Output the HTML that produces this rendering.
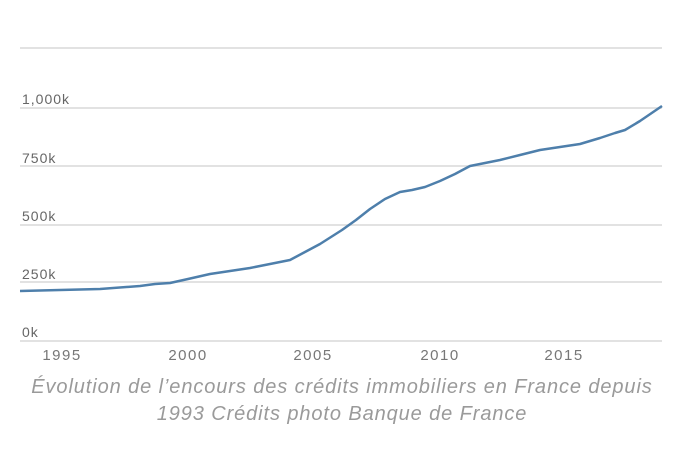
<!DOCTYPE html>
<html><head><style>
body{margin:0;background:#fff;width:684px;height:455px;overflow:hidden;font-family:"Liberation Sans",sans-serif}
.cap{position:absolute;left:0;width:684px;text-align:center;font-style:italic;color:#9a9a9a;font-size:20px;letter-spacing:0.9px;line-height:27px;top:374px}
</style></head><body>
<svg width="684" height="455" style="position:absolute;left:0;top:0">
<g stroke="#d8d8d8" stroke-width="1.5">
<line x1="20" x2="662" y1="48" y2="48"/>
<line x1="20" x2="662" y1="108" y2="108"/>
<line x1="20" x2="662" y1="166" y2="166"/>
<line x1="20" x2="662" y1="225" y2="225"/>
<line x1="20" x2="662" y1="282" y2="282"/>
<line x1="20" x2="662" y1="341" y2="341"/>
</g>
<g fill="#666" font-size="14" letter-spacing="1" font-family="Liberation Sans,sans-serif">
<text x="22" y="104">1,000k</text>
<text x="22" y="163">750k</text>
<text x="22" y="221">500k</text>
<text x="22" y="279">250k</text>
<text x="22" y="337">0k</text>
</g>
<g fill="#777" font-size="15" letter-spacing="1.5" text-anchor="middle" font-family="Liberation Sans,sans-serif">
<text x="62" y="360">1995</text>
<text x="188" y="360">2000</text>
<text x="313" y="360">2005</text>
<text x="440" y="360">2010</text>
<text x="564" y="360">2015</text>
</g>
<polyline fill="none" stroke="#4e7fab" stroke-width="2.5" stroke-linejoin="round" points="20,291 60,290 100,289 140,286 155,284 170,283 188,279 210,274 230,271 250,268 270,264 290,260 305,252 320,244 342,230 356,220 370,209 385,199 400,192 412,190 425,187 440,181 455,174 470,166 485,163 500,160 520,155 540,150 560,147 580,144 600,138 615,133 625,130 640,121 662,106"/>
</svg>
<div class="cap">Évolution de l’encours des crédits immobiliers en France depuis<br>1993 Crédits photo Banque de France</div>
</body></html>
